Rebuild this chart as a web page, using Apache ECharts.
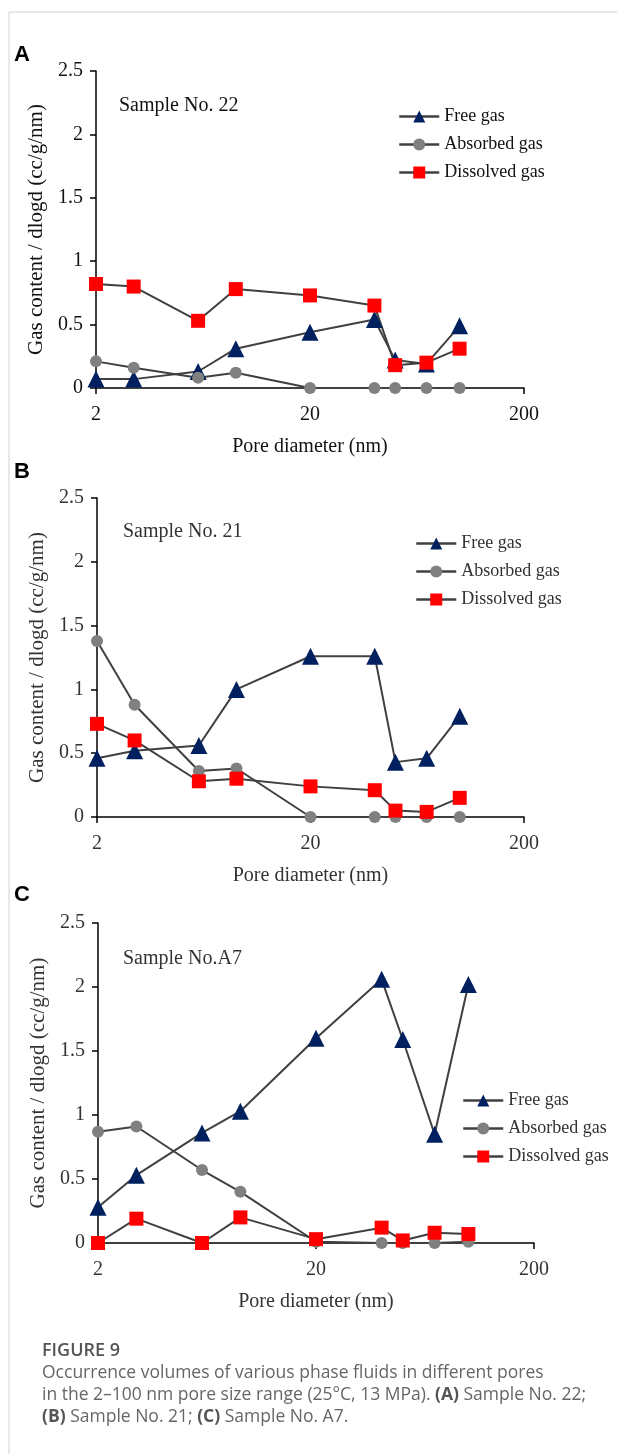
<!DOCTYPE html>
<html>
<head>
<meta charset="utf-8">
<script src="https://cdn.jsdelivr.net/npm/echarts@6/dist/echarts.min.js"></script>
<style>
  html, body { margin: 0; padding: 0; background: #fff; }
  #chart { width: 617px; height: 1454px; }
</style>
</head>
<body>
<div id="chart"></div>
<script>
// pore diameters (nm), shared by all three samples
const poreSizes = [2, 3, 6, 9, 20, 40, 50, 70, 100];
const xTicks = [2, 20, 200];
const seriesNames = ["Free gas", "Absorbed gas", "Dissolved gas"];

// Sample No. 22
const freeA = [0.07, 0.07, 0.13, 0.31, 0.44, 0.54, 0.22, 0.19, 0.49];
const absorbedA = [0.21, 0.16, 0.08, 0.12, 0, 0, 0, 0, 0];
const dissolvedA = [0.82, 0.8, 0.53, 0.78, 0.73, 0.65, 0.18, 0.2, 0.31];

// Sample No. 21
const freeB = [0.46, 0.52, 0.56, 1.0, 1.26, 1.26, 0.43, 0.46, 0.79];
const absorbedB = [1.38, 0.88, 0.36, 0.38, 0, 0, 0, 0, 0];
const dissolvedB = [0.73, 0.6, 0.28, 0.3, 0.24, 0.21, 0.05, 0.04, 0.15];

// Sample No. A7
const freeC = [0.28, 0.53, 0.86, 1.03, 1.6, 2.06, 1.59, 0.85, 2.02];
const absorbedC = [0.87, 0.91, 0.57, 0.4, 0.01, 0, 0, 0, 0.01];
const dissolvedC = [0, 0.19, 0, 0.2, 0.03, 0.12, 0.02, 0.08, 0.07];

const chart = echarts.init(document.getElementById("chart"));

const serif = "'Liberation Serif', 'Times New Roman', serif";
const lineColor = "#404040";

const panels = [
  { grid: { left: 96, top: 71, width: 428, height: 317 }, text: "#111",
    legend: { left: 398, top: 106 }, data: [freeA, absorbedA, dissolvedA] },
  { grid: { left: 97, top: 498, width: 427, height: 319 }, text: "#333",
    legend: { left: 415, top: 533 }, data: [freeB, absorbedB, dissolvedB] },
  { grid: { left: 98, top: 923, width: 436, height: 320 }, text: "#333",
    legend: { left: 462, top: 1090 }, data: [freeC, absorbedC, dissolvedC] },
];

const markers = [
  { symbol: "triangle", symbolSize: 17, color: "#002060" },
  { symbol: "circle", symbolSize: 12, color: "#808080" },
  { symbol: "rect", symbolSize: 14, color: "#ff0000" },
];

const grids = [], xAxes = [], yAxes = [], legends = [], series = [];

panels.forEach((p, i) => {
  grids.push(p.grid);
  xAxes.push({
    type: "log",
    logBase: 10,
    gridIndex: i,
    min: 2,
    max: 200,
    name: "Pore diameter (nm)",
    nameLocation: "middle",
    nameGap: 49,
    nameTextStyle: { fontFamily: serif, fontSize: 20, color: p.text },
    axisLine: { lineStyle: { color: "#000", width: 1.5 } },
    axisTick: { customValues: xTicks, length: 6, lineStyle: { color: "#000", width: 1.5 } },
    axisLabel: { customValues: xTicks, margin: 17, fontFamily: serif, fontSize: 20, color: p.text },
    splitLine: { show: false },
    minorTick: { show: false },
  });
  yAxes.push({
    type: "value",
    gridIndex: i,
    min: 0,
    max: 2.5,
    interval: 0.5,
    name: "Gas content / dlogd (cc/g/nm)",
    nameLocation: "middle",
    nameGap: 49,
    nameTextStyle: { fontFamily: serif, fontSize: 21, color: p.text },
    axisLine: { show: true, lineStyle: { color: "#000", width: 1.5 } },
    axisTick: { show: true, length: 6, lineStyle: { color: "#000", width: 1.5 } },
    axisLabel: { margin: 13, fontFamily: serif, fontSize: 20, color: p.text },
    splitLine: { show: false },
  });
  legends.push({
    orient: "vertical",
    left: p.legend.left,
    top: p.legend.top,
    padding: 0,
    itemWidth: 40,
    itemHeight: 15,
    itemGap: 7,
    data: seriesNames,
    selectedMode: false,
    lineStyle: { color: lineColor, width: 2.5 },
    textStyle: { fontFamily: serif, fontSize: 18, lineHeight: 21, color: p.text },
  });
  p.data.forEach((vals, k) => {
    series.push({
      type: "line",
      name: seriesNames[k],
      xAxisIndex: i,
      yAxisIndex: i,
      clip: false,
      symbol: markers[k].symbol,
      symbolSize: markers[k].symbolSize,
      itemStyle: { color: markers[k].color },
      lineStyle: { color: lineColor, width: 2 },
      data: poreSizes.map((x, j) => [x, vals[j]]),
    });
  });
});

const sampleLabels = [
  { text: "Sample No. 22", x: 119, y: 107 },
  { text: "Sample No. 21", x: 123, y: 533 },
  { text: "Sample No.A7", x: 123, y: 960 },
];
const panelLetters = [
  { text: "A", y: 55 },
  { text: "B", y: 472 },
  { text: "C", y: 895 },
];

const graphic = [
  { type: "line", shape: { x1: 9, y1: 12, x2: 617, y2: 12 }, style: { stroke: "#d0d0d0", lineWidth: 1 } },
  { type: "line", shape: { x1: 9, y1: 12, x2: 9, y2: 1454 }, style: { stroke: "#d0d0d0", lineWidth: 1 } },
];
panelLetters.forEach((l) => {
  graphic.push({
    type: "text", left: 14, top: l.y - 11,
    style: { text: l.text, font: "bold 22px 'Liberation Sans', Arial, sans-serif", fill: "#000" },
  });
});
sampleLabels.forEach((s, i) => {
  graphic.push({
    type: "text", left: s.x, top: s.y - 11,
    style: { text: s.text, font: "20px " + serif, fill: panels[i].text },
  });
});
graphic.push({
  type: "text", left: 42, top: 1342,
  style: { text: "FIGURE 9", font: "600 18px 'Open Sans', sans-serif", fill: "#555" },
});
graphic.push({
  type: "text", left: 42, top: 1362,
  style: {
    text: "Occurrence volumes of various phase fluids in different pores\n" +
          "in the 2\u2013100 nm pore size range (25\u00b0C, 13 MPa). {b|(A)} Sample No. 22;\n" +
          "{b|(B)} Sample No. 21; {b|(C)} Sample No. A7.",
    font: "17.5px 'Open Sans', sans-serif",
    lineHeight: 22,
    fill: "#666",
    rich: { b: { fontWeight: "bold", fontSize: 17.5, fontFamily: "'Open Sans', sans-serif", fill: "#555", lineHeight: 22 } },
  },
});

chart.setOption({
  backgroundColor: "#fff",
  animation: false,
  grid: grids,
  xAxis: xAxes,
  yAxis: yAxes,
  legend: legends,
  series: series,
  graphic: graphic,
});
</script>
</body>
</html>
